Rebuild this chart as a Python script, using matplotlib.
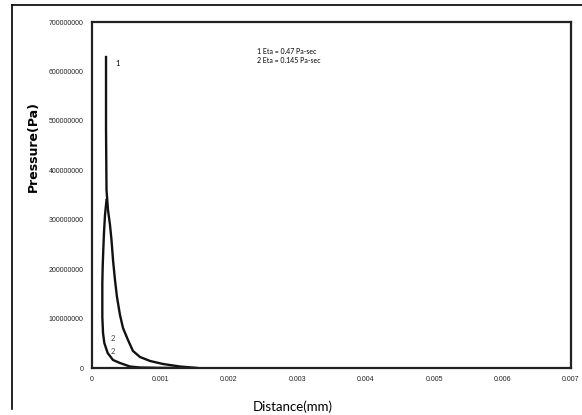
import matplotlib
matplotlib.use("Agg")
import matplotlib.pyplot as plt
from matplotlib.lines import Line2D

# Data (distance in mm, pressure in Pa)
x_eta1 = [0.000205, 0.000205, 0.000212, 0.000234, 0.000263, 0.000285, 0.000307, 0.000336,
          0.000365, 0.000409, 0.000453, 0.000526, 0.000599, 0.000701, 0.000848, 0.001038,
          0.001286, 0.001534]
y_eta1 = [629.2e6, 481.5e6, 360.1e6, 319.6e6, 289.3e6, 258.9e6, 218.5e6, 178.0e6,
          143.6e6, 107.2e6, 80.9e6, 56.6e6, 34.4e6, 22.3e6, 14.2e6, 8.1e6,
          3.0e6, 0.2e6]
x_eta2 = [0.000212, 0.000190, 0.000175, 0.000165, 0.000156, 0.000151, 0.000151, 0.000151,
          0.000161, 0.000180, 0.000229, 0.000307, 0.000409, 0.000555, 0.000701, 0.000994,
          0.001213]
y_eta2 = [339.9e6, 309.5e6, 273.1e6, 238.7e6, 204.3e6, 172.0e6, 137.6e6, 103.2e6,
          70.8e6, 50.6e6, 30.3e6, 16.2e6, 10.1e6, 3.0e6, 1.0e6, 0.3e6,
          0.1e6]

x_ticks = [0, 0.001, 0.002, 0.003, 0.004, 0.005, 0.006, 0.007]
x_tick_labels = ["0", "0.001", "0.002", "0.003", "0.004", "0.005", "0.006", "0.007"]
y_ticks = [0, 100000000, 200000000, 300000000, 400000000, 500000000, 600000000, 700000000]
y_tick_labels = ["0", "100000000", "200000000", "300000000", "400000000",
                 "500000000", "600000000", "700000000"]
legend_lines = ["1 Eta = 0.47 Pa-sec", "2 Eta = 0.145 Pa-sec"]

fig = plt.figure(figsize=(5.82, 4.15), dpi=100)
ax = fig.add_axes([92/582, 47/415, 479/582, 346/415])

ax.plot(x_eta1, y_eta1, color="#111111", lw=1.7, solid_joinstyle="round")
ax.plot(x_eta2, y_eta2, color="#111111", lw=1.7, solid_joinstyle="round")

ax.set_xlim(0, 0.007)
ax.set_ylim(0, 700000000)
ax.set_xticks(x_ticks)
ax.set_xticklabels(x_tick_labels, fontsize=5, family="Liberation Sans", color="#222222")
ax.set_yticks(y_ticks)
ax.set_yticklabels(y_tick_labels, fontsize=5, family="Liberation Sans", color="#222222")
ax.tick_params(length=0, pad=6)

for s in ax.spines.values():
    s.set_linewidth(1.6)
    s.set_color("#222222")

ax.set_xlabel("Distance(mm)", fontsize=9.5, family="Lato")
ax.xaxis.set_label_coords(0.42, -0.095)
ax.set_ylabel("Pressure(Pa)", fontsize=9, family="DejaVu Sans", fontweight="bold")
ax.yaxis.set_label_coords(-0.108, 0.64)

ax.text(0.000336, 617e6, "1", fontsize=5.5, family="Lato", va="center")
ax.text(0.000278, 59e6, "2", fontsize=5.5, family="Lato", va="center", color="#444444")
ax.text(0.000278, 33e6, "2", fontsize=5.5, family="Lato", va="center", color="#444444")

ax.text(0.00241, 641e6, legend_lines[0], fontsize=5, family="Lato", va="center")
ax.text(0.00241, 623e6, legend_lines[1], fontsize=5, family="Lato", va="center")

# outer frame fragments
fig.add_artist(Line2D([12/582, 1.0], [1 - 5/415, 1 - 5/415], color="black", lw=1.2,
                      transform=fig.transFigure))
fig.add_artist(Line2D([12/582, 12/582], [1 - 5/415, 1 - 409/415], color="black", lw=1.2,
                      transform=fig.transFigure))

fig.savefig("out.png", dpi=100)
